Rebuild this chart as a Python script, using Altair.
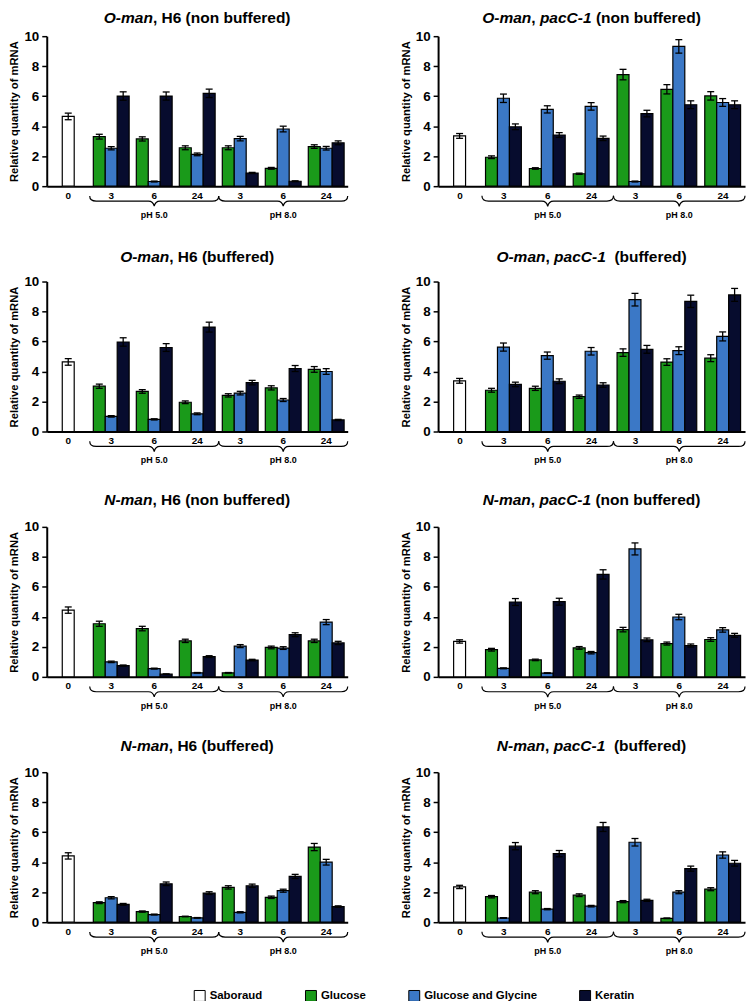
import altair as alt
import pandas as pd

FONT = "Liberation Sans"
SERIES = ["Saboraud", "Glucose", "Glucose and Glycine", "Keratin"]
COLORS = ["#ffffff", "#1a9a1a", "#3b78c6", "#070c2e"]
SUBS = ["a", "b", "c"]
SLOT_LABELS = ["0", "3", "6", "24", "3", "6", "24"]
PH_LABELS = ["pH 5.0", "pH 8.0"]
PH_SLOTS = [2, 5]
Y_TICKS = [0, 2, 4, 6, 8, 10]
Y_TITLE = "Relative quantity of mRNA"

# groups: pH5 3h, 6h, 24h, pH8 3h, 6h, 24h ; each [Glucose, Glucose and Glycine, Keratin]
A_SAB, A_SAB_ERR = 4.65, 0.22
A_VALS = [[3.30, 2.53, 6.01], [3.15, 0.31, 6.01], [2.56, 2.12, 6.19], [2.56, 3.17, 0.88], [1.19, 3.81, 0.33], [2.64, 2.53, 2.89]]
A_ERRS = [[0.16, 0.11, 0.28], [0.14, 0.03, 0.27], [0.13, 0.09, 0.28], [0.13, 0.15, 0.04], [0.06, 0.19, 0.03], [0.12, 0.12, 0.13]]

B_SAB, B_SAB_ERR = 3.35, 0.16
B_VALS = [[1.93, 5.86, 3.96], [1.18, 5.12, 3.41], [0.83, 5.32, 3.19], [7.44, 0.31, 4.84], [6.46, 9.32, 5.43], [6.02, 5.58, 5.43]]
B_ERRS = [[0.09, 0.28, 0.19], [0.05, 0.24, 0.16], [0.04, 0.25, 0.15], [0.35, 0.03, 0.22], [0.31, 0.45, 0.26], [0.28, 0.26, 0.26]]

C_SAB, C_SAB_ERR = 4.64, 0.22
C_VALS = [[3.02, 1.01, 5.97], [2.67, 0.81, 5.60], [1.95, 1.18, 6.96], [2.41, 2.56, 3.26], [2.91, 2.10, 4.20], [4.14, 4.00, 0.77]]
C_ERRS = [[0.14, 0.05, 0.28], [0.12, 0.04, 0.26], [0.09, 0.06, 0.33], [0.11, 0.12, 0.15], [0.14, 0.10, 0.20], [0.19, 0.19, 0.04]]

D_SAB, D_SAB_ERR = 3.38, 0.16
D_VALS = [[2.75, 5.63, 3.14], [2.88, 5.06, 3.35], [2.32, 5.35, 3.10], [5.26, 8.79, 5.48], [4.63, 5.39, 8.68], [4.89, 6.34, 9.11]]
D_ERRS = [[0.13, 0.27, 0.15], [0.14, 0.24, 0.16], [0.11, 0.25, 0.15], [0.25, 0.42, 0.26], [0.22, 0.26, 0.41], [0.23, 0.30, 0.43]]

E_SAB, E_SAB_ERR = 4.45, 0.21
E_VALS = [[3.54, 1.00, 0.75], [3.22, 0.55, 0.18], [2.40, 0.27, 1.35], [0.27, 2.05, 1.12], [1.96, 1.92, 2.81], [2.40, 3.65, 2.26]]
E_ERRS = [[0.17, 0.05, 0.04], [0.15, 0.03, 0.02], [0.11, 0.02, 0.06], [0.02, 0.10, 0.05], [0.09, 0.09, 0.13], [0.11, 0.17, 0.11]]

F_SAB, F_SAB_ERR = 2.36, 0.11
F_VALS = [[1.81, 0.57, 4.99], [1.13, 0.25, 5.01], [1.93, 1.61, 6.83], [3.15, 8.53, 2.47], [2.22, 3.99, 2.09], [2.49, 3.13, 2.77]]
F_ERRS = [[0.09, 0.03, 0.23], [0.05, 0.02, 0.23], [0.09, 0.08, 0.31], [0.15, 0.40, 0.12], [0.10, 0.18, 0.10], [0.12, 0.15, 0.13]]

G_SAB, G_SAB_ERR = 4.42, 0.21
G_VALS = [[1.30, 1.63, 1.19], [0.71, 0.51, 2.56], [0.38, 0.29, 1.94], [2.32, 0.66, 2.43], [1.66, 2.10, 3.05], [5.01, 4.00, 1.04]]
G_ERRS = [[0.06, 0.08, 0.06], [0.04, 0.03, 0.12], [0.02, 0.02, 0.09], [0.11, 0.04, 0.11], [0.08, 0.10, 0.14], [0.24, 0.19, 0.05]]

H_SAB, H_SAB_ERR = 2.35, 0.11
H_VALS = [[1.70, 0.28, 5.07], [2.00, 0.87, 4.57], [1.80, 1.07, 6.35], [1.37, 5.33, 1.46], [0.26, 2.00, 3.57], [2.20, 4.48, 3.93]]
H_ERRS = [[0.08, 0.02, 0.24], [0.10, 0.04, 0.21], [0.09, 0.05, 0.30], [0.07, 0.25, 0.07], [0.02, 0.10, 0.17], [0.10, 0.21, 0.19]]

# title segments: (text, italic)
T_A = [("O-man", True), (", H6 (non buffered)", False)]
T_B = [("O-man", True), (", ", False), ("pacC-1", True), (" (non buffered)", False)]
T_C = [("O-man", True), (", H6 (buffered)", False)]
T_D = [("O-man", True), (", ", False), ("pacC-1", True), ("  (buffered)", False)]
T_E = [("N-man", True), (", H6 (non buffered)", False)]
T_F = [("N-man", True), (", ", False), ("pacC-1", True), (" (non buffered)", False)]
T_G = [("N-man", True), (", H6 (buffered)", False)]
T_H = [("N-man", True), (", ", False), ("pacC-1", True), ("  (buffered)", False)]

# Arial/Liberation Sans Bold advance widths (per 1000 em)
CW = {" ": 278, "(": 333, ")": 333, ",": 278, "-": 333, "1": 556, "6": 556, "C": 722, "H": 722,
      "N": 722, "O": 778, "a": 556, "b": 611, "c": 556, "d": 611, "e": 556, "f": 333, "m": 889,
      "n": 611, "o": 611, "p": 611, "r": 389, "u": 611}
TITLE_SIZE = 15.6

W_L, W_R, H = 303, 309, 151
BRACE = "M -1 -0.08 Q -1 0 -0.9 0 L -0.09 0 Q -0.015 0 0 0.08 Q 0.015 0 0.09 0 L 0.9 0 Q 1 0 1 -0.08"


def tw(s):
    return sum(CW.get(c, 556) for c in s) * TITLE_SIZE / 1000.0


def panel(sab, sab_err, vals, errs, segs, title_dy, width):
    rows = [{"slot": 0, "series": SERIES[0], "sub": "b", "value": sab, "err": sab_err}]
    for g in range(6):
        for k in range(3):
            rows.append({"slot": g + 1, "series": SERIES[k + 1], "sub": SUBS[k],
                         "value": vals[g][k], "err": errs[g][k]})
    df = pd.DataFrame(rows)
    df["lo"] = df["value"] - df["err"]
    df["hi"] = df["value"] + df["err"]

    label_expr = "[" + ",".join("'%s'" % s for s in SLOT_LABELS) + "][datum.value]"
    X = alt.X("slot:O", scale=alt.Scale(paddingInner=0, paddingOuter=0),
              axis=alt.Axis(title=None, labelExpr=label_expr, labelAngle=0, ticks=False,
                            domainWidth=2, labelFontSize=10, labelFontWeight="bold",
                            labelPadding=4))
    XO = alt.XOffset("sub:N", scale=alt.Scale(domain=SUBS, paddingInner=0, paddingOuter=0.3))
    yaxis = alt.Axis(values=Y_TICKS, title=Y_TITLE, labelFontSize=13.5, labelFontWeight="bold",
                     titleFontSize=11.3, titleFontWeight="bold", tickSize=5, tickWidth=1.5,
                     domainWidth=2, labelPadding=3, titlePadding=4)
    ysc = alt.Scale(domain=[0, 10])

    def Y(f):
        return alt.Y(f, scale=ysc, axis=yaxis)

    base = alt.Chart(df)
    bars = base.mark_bar(stroke="black", strokeWidth=1.2).encode(
        x=X, xOffset=XO, y=Y("value:Q"),
        color=alt.Color("series:N", scale=alt.Scale(domain=SERIES, range=COLORS),
                        legend=alt.Legend(title=None)))
    rules = base.mark_rule(color="black", strokeWidth=1.3).encode(
        x=X, xOffset=XO, y=Y("lo:Q"), y2="hi:Q")
    cap_hi = base.mark_tick(color="black", thickness=1.3, size=7, opacity=1).encode(
        x=X, xOffset=XO, y=Y("hi:Q"))
    cap_lo = base.mark_tick(color="black", thickness=1.3, size=7, opacity=1).encode(
        x=X, xOffset=XO, y=Y("lo:Q"))

    ph = alt.Chart(pd.DataFrame({"slot": PH_SLOTS, "lab": PH_LABELS}))
    step = width / 7.0
    brace = ph.mark_point(shape=BRACE, size=(3 * step) ** 2, filled=False, color="black",
                          strokeWidth=1.2, opacity=1).encode(x=X, y=alt.value(H + 15))
    phtext = ph.mark_text(font=FONT, fontSize=9, fontWeight="bold", baseline="middle",
                          color="black").encode(x=X, y=alt.value(H + 29), text="lab:N")

    total = sum(tw(t) for t, _ in segs)
    xpos = width / 2.0 - total / 2.0
    tlayers = []
    for t, it in segs:
        shown = t.strip()
        lead = len(t) - len(t.lstrip())
        px = xpos + tw(t[:lead])
        tlayers.append(
            alt.Chart(alt.Data(values=[{"t": shown}])).mark_text(
                font=FONT, fontSize=TITLE_SIZE, fontWeight="bold",
                fontStyle="italic" if it else "normal", align="left", baseline="middle",
                color="black").encode(x=alt.value(px), y=alt.value(title_dy), text="t:N"))
        xpos += tw(t)

    return alt.layer(bars, rules, cap_hi, cap_lo, brace, phtext, *tlayers).properties(
        width=width, height=H)


panels = [
    panel(A_SAB, A_SAB_ERR, A_VALS, A_ERRS, T_A, -18, W_L),
    panel(B_SAB, B_SAB_ERR, B_VALS, B_ERRS, T_B, -18, W_R),
    panel(C_SAB, C_SAB_ERR, C_VALS, C_ERRS, T_C, -25, W_L),
    panel(D_SAB, D_SAB_ERR, D_VALS, D_ERRS, T_D, -25, W_R),
    panel(E_SAB, E_SAB_ERR, E_VALS, E_ERRS, T_E, -27, W_L),
    panel(F_SAB, F_SAB_ERR, F_VALS, F_ERRS, T_F, -27, W_R),
    panel(G_SAB, G_SAB_ERR, G_VALS, G_ERRS, T_G, -26, W_L),
    panel(H_SAB, H_SAB_ERR, H_VALS, H_ERRS, T_H, -26, W_R),
]

chart = alt.concat(*panels, columns=2, spacing={"row": 96, "column": 91}, bounds="flush").properties(
    padding=0, background="white"
).configure_axis(
    grid=False, domainColor="black", tickColor="black", labelColor="black", titleColor="black",
    labelFont=FONT, titleFont=FONT
).configure_view(strokeWidth=0).configure_legend(
    orient="none", legendX=148, legendY=960, direction="horizontal", columns=4,
    symbolType="square", symbolSize=121, symbolStrokeColor="black", symbolStrokeWidth=1,
    labelFont=FONT, labelFontSize=11.5, labelFontWeight="bold", labelColor="black",
    columnPadding=40, labelOffset=4
)

chart.save("out.html", embed_options={"renderer": "svg", "actions": False})
